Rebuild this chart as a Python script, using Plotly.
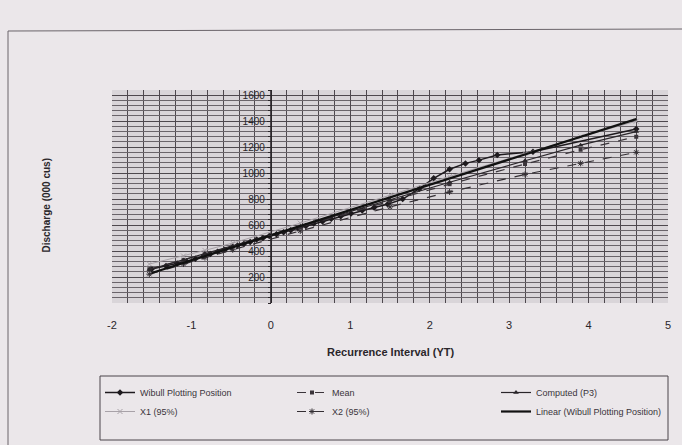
import numpy as np
import plotly.graph_objects as go

# ---- data ----
weibull_x = [-1.50, -1.32, -1.18, -1.06, -0.95, -0.85, -0.76, -0.67, -0.58, -0.50,
             -0.42, -0.34, -0.26, -0.18, -0.10, -0.02, 0.07, 0.16, 0.25, 0.34,
             0.44, 0.54, 0.65, 0.76, 0.88, 1.01, 1.15, 1.30, 1.47, 1.66,
             1.87, 2.05, 2.25, 2.45, 2.62, 2.85, 3.30, 4.60]
weibull_y = [262, 285, 305, 322, 340, 360, 378, 395, 410, 428,
             443, 455, 470, 488, 500, 515, 530, 545, 560, 578,
             593, 612, 628, 648, 668, 690, 712, 735, 760, 800,
             880, 960, 1030, 1075, 1100, 1140, 1165, 1340]

yt_x = [-1.53, -1.10, -0.83, -0.48, 0.37, 1.50, 2.25, 3.20, 3.90, 4.60]
mean_y = [260, 330, 378, 437, 585, 785, 915, 1070, 1180, 1280]
computed_y = [258, 332, 380, 440, 590, 795, 930, 1095, 1215, 1320]
x1_y = [300, 362, 405, 462, 615, 830, 975, 1150, 1280, 1400]
x2_y = [222, 300, 350, 410, 555, 740, 855, 990, 1075, 1160]

x_ticks = [-2, -1, 0, 1, 2, 3, 4, 5]
x_tick_text = ["-2", "-1", "0", "1", "2", "3", "4", "5"]
y_ticks = [200, 400, 600, 800, 1000, 1200, 1400, 1600]

# linear trendline of the Weibull points (as Excel computes it)
slope, intercept = np.polyfit(weibull_x, weibull_y, 1)
lin_x = [min(weibull_x), max(weibull_x)]
lin_y = [intercept + slope * v for v in lin_x]

ink = "#1e1a1e"
fig = go.Figure()
fig.add_trace(go.Scatter(x=weibull_x, y=weibull_y, name="Wibull Plotting Position",
                         mode="lines+markers", line=dict(color=ink, width=1.5),
                         marker=dict(symbol="diamond", size=5, color=ink), legend="legend"))
fig.add_trace(go.Scatter(x=yt_x, y=mean_y, name="Mean", mode="lines+markers",
                         line=dict(color="#3a343a", width=1.2, dash="dash"),
                         marker=dict(symbol="square", size=4, color="#3a343a"), legend="legend2"))
fig.add_trace(go.Scatter(x=yt_x, y=computed_y, name="Computed (P3)", mode="lines+markers",
                         line=dict(color="#2a262a", width=1.2),
                         marker=dict(symbol="triangle-up", size=5, color="#2a262a"), legend="legend3"))
fig.add_trace(go.Scatter(x=yt_x, y=x1_y, name="X1 (95%)", mode="lines+markers",
                         line=dict(color="#a8a2a8", width=1),
                         marker=dict(symbol="x-thin", size=5, color="#a8a2a8",
                                     line=dict(color="#a8a2a8", width=1)), legend="legend"))
fig.add_trace(go.Scatter(x=yt_x, y=x2_y, name="X2 (95%)", mode="lines+markers",
                         line=dict(color="#332e33", width=1.2, dash="dash"),
                         marker=dict(symbol="asterisk", size=5, color="#332e33",
                                     line=dict(color="#332e33", width=1)), legend="legend2"))
fig.add_trace(go.Scatter(x=lin_x, y=lin_y, name="Linear (Wibull Plotting Position)",
                         mode="lines", line=dict(color="#111", width=2.2), legend="legend3"))

W, H = 682, 445
L, R, T, B = 112, 14, 90, 142
pw, ph = W - L - R, H - T - B

def px(xp):
    return (xp - L) / pw

def py(yp):
    return 1 - (yp - T) / ph

leg_common = dict(orientation="v", yanchor="top", xanchor="left", itemwidth=30,
                  bgcolor="rgba(0,0,0,0)", borderwidth=0,
                  font=dict(size=9, color="#3a343a"), tracegroupgap=0)

fig.update_layout(
    width=W, height=H,
    margin=dict(l=L, r=R, t=T, b=B, autoexpand=False),
    paper_bgcolor="#ebe7ea",
    plot_bgcolor="#d9d5d9",
    font=dict(family="Liberation Sans, Arial, sans-serif", color="#2a262a"),
    showlegend=True,
    legend=dict(x=px(100), y=py(378), **leg_common),
    legend2=dict(x=px(292), y=py(378), **leg_common),
    legend3=dict(x=px(496), y=py(378), **leg_common),
    xaxis=dict(range=[-2, 5], tickmode="array", tickvals=x_ticks, ticktext=x_tick_text,
               showgrid=True, gridcolor="#4e484e", gridwidth=1, zeroline=False,
               showline=False, ticks="", tickfont=dict(size=11, color="#2a262a"),
               ticklabelstandoff=14,
               minor=dict(dtick=0.2, tick0=0, showgrid=True, gridcolor="#4e484e", gridwidth=1)),
    yaxis=dict(range=[0, 1640], tickvals=y_ticks, anchor="free", position=2 / 7,
               showline=True, linecolor="#2a262a", linewidth=1,
               ticks="outside", ticklen=4, tickcolor="#2a262a",
               gridcolor="#4e484e", gridwidth=1, zeroline=False,
               minor=dict(dtick=40, showgrid=True, gridcolor="#6a646a", gridwidth=1,
                          ticks="outside", ticklen=3, tickcolor="#2a262a"),
               tickfont=dict(size=10, color="#2a262a")),
)

fig.add_annotation(text="<b>Recurrence Interval (YT)</b>", x=px(390), y=py(360),
                   xref="paper", yref="paper", showarrow=False,
                   font=dict(size=11, color="#2a262a"))
fig.add_annotation(text="<b>Discharge (000 cus)</b>", x=px(38), y=py(205),
                   xref="paper", yref="paper", showarrow=False, textangle=-90,
                   font=dict(size=10, color="#2a262a"))

# legend frame
fig.add_shape(type="rect", xref="paper", yref="paper", x0=px(100), x1=px(668),
              y0=py(376), y1=py(440), line=dict(color="#4a454a", width=1))
# chart-area border (top and left edges)
fig.add_shape(type="line", xref="paper", yref="paper", x0=px(8), x1=px(682),
              y0=py(31), y1=py(29), line=dict(color="#6a646a", width=1))
fig.add_shape(type="line", xref="paper", yref="paper", x0=px(8), x1=px(8),
              y0=py(31), y1=py(445), line=dict(color="#6a646a", width=1))

fig.write_html("out.html", config={"displayModeBar": False},
               post_script="document.body.style.margin='0';document.body.style.background='#ebe7ea';")
